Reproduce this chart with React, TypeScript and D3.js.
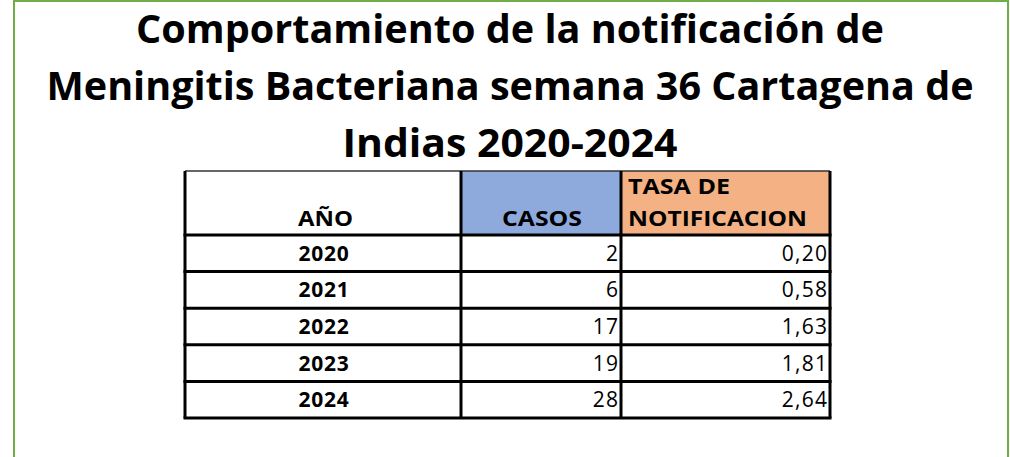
import React, { useEffect, useRef } from "react";
import * as d3 from "d3";

const titleLines = [
  "Comportamiento de la notificación de",
  "Meningitis Bacteriana semana 36 Cartagena de",
  "Indias 2020-2024",
];
const years = ["2020", "2021", "2022", "2023", "2024"];
const casos = [2, 6, 17, 19, 28];
const tasa = [0.2, 0.58, 1.63, 1.81, 2.64];

const W = 1010;
const H = 457;

export default function App() {
  const ref = useRef<SVGSVGElement>(null);

  useEffect(() => {
    const svg = d3.select(ref.current);
    svg.selectAll("*").remove();

    svg.append("rect").attr("width", W).attr("height", H).attr("fill", "#fff");

    // green frame
    svg
      .append("rect")
      .attr("x", 14)
      .attr("y", 1)
      .attr("width", 994)
      .attr("height", H + 20)
      .attr("fill", "none")
      .attr("stroke", "#70AD47")
      .attr("stroke-width", 2);

    const font = "'Open Sans', 'Noto Sans', sans-serif";

    const titleY = d3.scalePoint<number>().domain([0, 1, 2]).range([43, 157]);
    const titleWidths = [748, 927, 335];
    svg
      .selectAll("text.title")
      .data(titleLines)
      .enter()
      .append("text")
      .attr("class", "title")
      .attr("x", 510)
      .attr("y", (_d, i) => titleY(i)!)
      .attr("text-anchor", "middle")
      .attr("font-family", font)
      .attr("font-weight", "bold")
      .attr("font-size", 39)
      .attr("textLength", (_d, i) => titleWidths[i])
      .attr("lengthAdjust", "spacingAndGlyphs")
      .attr("fill", "#000")
      .text((d) => d);

    // table geometry
    const colEdges = [185, 461, 621, 830];
    const headerTop = 171;
    const headerBottom = 235;
    const y = d3.scaleBand().domain(years).range([headerBottom, 418]);

    const g = svg.append("g");

    // header fills
    g.append("rect")
      .attr("x", colEdges[1])
      .attr("y", headerTop)
      .attr("width", colEdges[2] - colEdges[1])
      .attr("height", headerBottom - headerTop)
      .attr("fill", "#8EA9DB");
    g.append("rect")
      .attr("x", colEdges[2])
      .attr("y", headerTop)
      .attr("width", colEdges[3] - colEdges[2])
      .attr("height", headerBottom - headerTop)
      .attr("fill", "#F4B183");

    const hText = (x: number, yy: number, t: string, len: number) =>
      g
        .append("text")
        .attr("x", x)
        .attr("y", yy)
        .attr("font-family", font)
        .attr("font-weight", "bold")
        .attr("font-size", 20.5)
        .attr("textLength", len)
        .attr("lengthAdjust", "spacingAndGlyphs")
        .attr("fill", "#000")
        .text(t);

    hText(298, 226, "AÑO", 55);
    hText(502, 226, "CASOS", 80);
    hText(628, 194, "TASA DE", 102);
    hText(628, 226, "NOTIFICACION", 179);

    const rows = g
      .selectAll("g.row")
      .data(years)
      .enter()
      .append("g")
      .attr("class", "row")
      .attr("transform", (d) => `translate(0,${y(d)! + y.bandwidth() / 2 + 7.5})`);

    rows
      .append("text")
      .attr("x", (colEdges[0] + colEdges[1]) / 2 + 1)
      .attr("text-anchor", "middle")
      .attr("font-family", font)
      .attr("font-weight", "bold")
      .attr("font-size", 21)
      .attr("letter-spacing", 0.8)
      .text((d) => d);

    rows
      .append("text")
      .attr("x", colEdges[2] - 3 + 1.3)
      .attr("text-anchor", "end")
      .attr("font-family", font)
      .attr("font-size", 21)
      .attr("letter-spacing", 1.3)
      .text((_d, i) => String(casos[i]));

    rows
      .append("text")
      .attr("x", colEdges[3] - 3 + 1.3)
      .attr("text-anchor", "end")
      .attr("font-family", font)
      .attr("font-size", 21)
      .attr("letter-spacing", 1.3)
      .text((_d, i) => tasa[i].toFixed(2).replace(".", ","));

    // grid lines
    const lines = g.append("g").attr("stroke", "#000").attr("stroke-width", 3);
    lines
      .append("line")
      .attr("x1", colEdges[0])
      .attr("x2", colEdges[3])
      .attr("y1", headerTop)
      .attr("y2", headerTop)
      .attr("stroke-width", 1.5)
      .attr("stroke", "#333");
    lines
      .selectAll("line.h")
      .data([headerBottom, ...years.map((d) => y(d)! + y.bandwidth())])
      .enter()
      .append("line")
      .attr("class", "h")
      .attr("x1", colEdges[0] - 1.5)
      .attr("x2", colEdges[3] + 1.5)
      .attr("y1", (d) => d)
      .attr("y2", (d) => d);
    lines
      .selectAll("line.v")
      .data(colEdges)
      .enter()
      .append("line")
      .attr("class", "v")
      .attr("x1", (d) => d)
      .attr("x2", (d) => d)
      .attr("y1", headerTop)
      .attr("y2", 418);
  }, []);

  return (
    <svg
      ref={ref}
      width={W}
      height={H}
      style={{ position: "absolute", left: 0, top: 0, display: "block" }}
    />
  );
}
